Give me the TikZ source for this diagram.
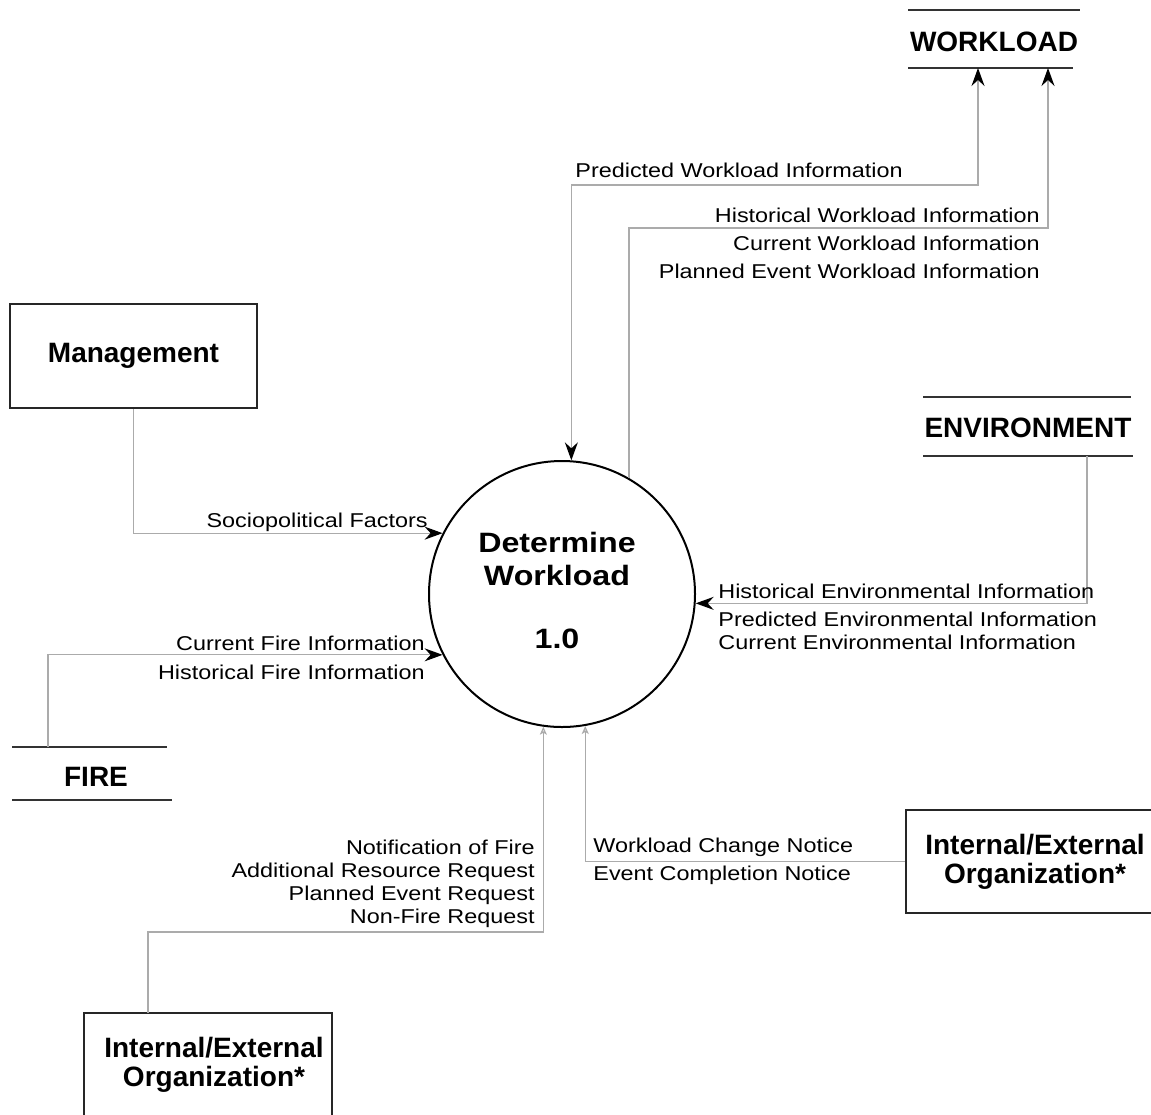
\documentclass[tikz,border=0pt]{standalone}
\usepackage{fontspec}
\setmainfont{Liberation Sans}
\newfontfamily\lblfont[FakeStretch=1.17]{Liberation Sans}
\newfontfamily\circfont[FakeStretch=1.15]{Liberation Sans}
\usetikzlibrary{arrows.meta,calc}

\definecolor{linegray}{HTML}{ABABAB}

\tikzset{
  lbl/.style={font=\lblfont\fontsize{10}{12}\selectfont, inner sep=0pt},
  title/.style={font=\bfseries\fontsize{14}{14.5}\selectfont, align=center, inner sep=0pt},
  entity/.style={draw=black!85, line width=1pt, font=\bfseries\fontsize{14}{14.5}\selectfont,
    align=center, inner sep=0pt},
  storeline/.style={draw=black!80, line width=1.2pt},
  proc/.style={draw=black, line width=1pt, circle, minimum size=133pt, inner sep=0pt,
    font=\circfont\bfseries\fontsize{14}{16.5}\selectfont},
  bighead/.style={Stealth[length=9pt,width=6.5pt,inset=3pt,color=black]},
  flow/.style={draw=linegray, line width=0.6pt, -{Stealth[length=9pt,width=6.5pt,inset=3pt,color=black]}},
  bothflow/.style={draw=linegray, line width=0.6pt,
    {Stealth[length=9pt,width=6.5pt,inset=3pt,color=black]}-{Stealth[length=9pt,width=6.5pt,inset=3pt,color=black]}},
  thinflow/.style={draw=linegray, line width=0.6pt,
    -{Stealth[open,length=4pt,width=3.5pt,inset=1pt]}},
}

\begin{document}
\begin{tikzpicture}[x=0.5pt,y=-0.5pt]
\clip (0,0) rectangle (1151,1114);
\fill[white] (0,0) rectangle (1151,1114);

% central process
\node[proc] (circ) at (562,594)
  {\raisebox{2pt}{\begin{tabular}{@{}c@{}}Determine\\Workload\\[15pt]1.0\end{tabular}}\hspace*{5pt}};

% external entities
\node[entity, minimum width=123.5pt, minimum height=52pt] (mgmt) at (133.5,356) {Management};
\node[entity, minimum width=124pt, minimum height=52pt, text width=120pt] (orgL) at (208,1065)
  {\hspace*{6pt}Internal/External\\\hspace*{6pt}Organization*};
\node[entity, minimum width=129pt, minimum height=51.5pt] (orgR) at (1035,861.5)
  {Internal/External\\Organization*};

% data stores
\node[title] (wl) at (994,42) {WORKLOAD};
\draw[storeline] (908,10) -- (1080,10);
\draw[storeline] (908,68) -- (1073,68);
\coordinate (wlIn1) at (978,68);
\coordinate (wlIn2) at (1048,68);

\node[title] (env) at (1028,428) {ENVIRONMENT};
\draw[storeline] (923,397) -- (1131,397);
\draw[storeline] (923,456) -- (1133,456);
\coordinate (envOut) at (1087,456);

\node[title] (fire) at (96,777) {FIRE};
\draw[storeline] (12,747) -- (167,747);
\draw[storeline] (12,800) -- (172,800);
\coordinate (fireOut) at (48,747);

% routing bends
\coordinate (bendA) at (774,185);
\coordinate (bendB) at (800,228);
\coordinate (bendC) at (300,932);
\coordinate (orgLout) at (148,1013);

% data flows
\draw[bothflow] (circ.86.5) |- (bendA) -| (wlIn1);
\draw[flow] (circ.60) |- (bendB) -| (wlIn2);
\draw[flow] (mgmt.south) |- (circ.153.7);
\draw[flow] (fireOut) |- (circ.207.3);
\draw[flow] (envOut) |- (circ.356.1);
\draw[thinflow] (orgLout) |- (bendC) -| (circ.262.7);
\draw[thinflow] (orgR.west) -| (circ.280);

% flow labels
\node[lbl, anchor=base west] (lPredWl) at (575,177) {Predicted Workload Information};
\node[lbl, anchor=base east] (lHistWl) at (1040,222) {Historical Workload Information};
\node[lbl, anchor=base east] (lCurWl) at (1040,250) {Current Workload Information};
\node[lbl, anchor=base east] (lPlanWl) at (1040,278) {Planned Event Workload Information};
\node[lbl, anchor=base east] (lSocio) at (428,527) {Sociopolitical Factors};
\node[lbl, anchor=base east] (lCurFire) at (425,650) {Current Fire Information};
\node[lbl, anchor=base east] (lHistFire) at (425,679) {Historical Fire Information};
\node[lbl, anchor=base west] (lHistEnv) at (718,598) {Historical Environmental Information};
\node[lbl, anchor=base west] (lPredEnv) at (718,626) {Predicted Environmental Information};
\node[lbl, anchor=base west] (lCurEnv) at (718,649) {Current Environmental Information};
\node[lbl, anchor=base east] (lNotif) at (535,854) {Notification of Fire};
\node[lbl, anchor=base east] (lAddRes) at (535,877) {Additional Resource Request};
\node[lbl, anchor=base east] (lPlanEv) at (535,900) {Planned Event Request};
\node[lbl, anchor=base east] (lNonFire) at (535,923) {Non-Fire Request};
\node[lbl, anchor=base west] (lChange) at (593,852) {Workload Change Notice};
\node[lbl, anchor=base west] (lCompl) at (593,880) {Event Completion Notice};
\end{tikzpicture}
\end{document}
